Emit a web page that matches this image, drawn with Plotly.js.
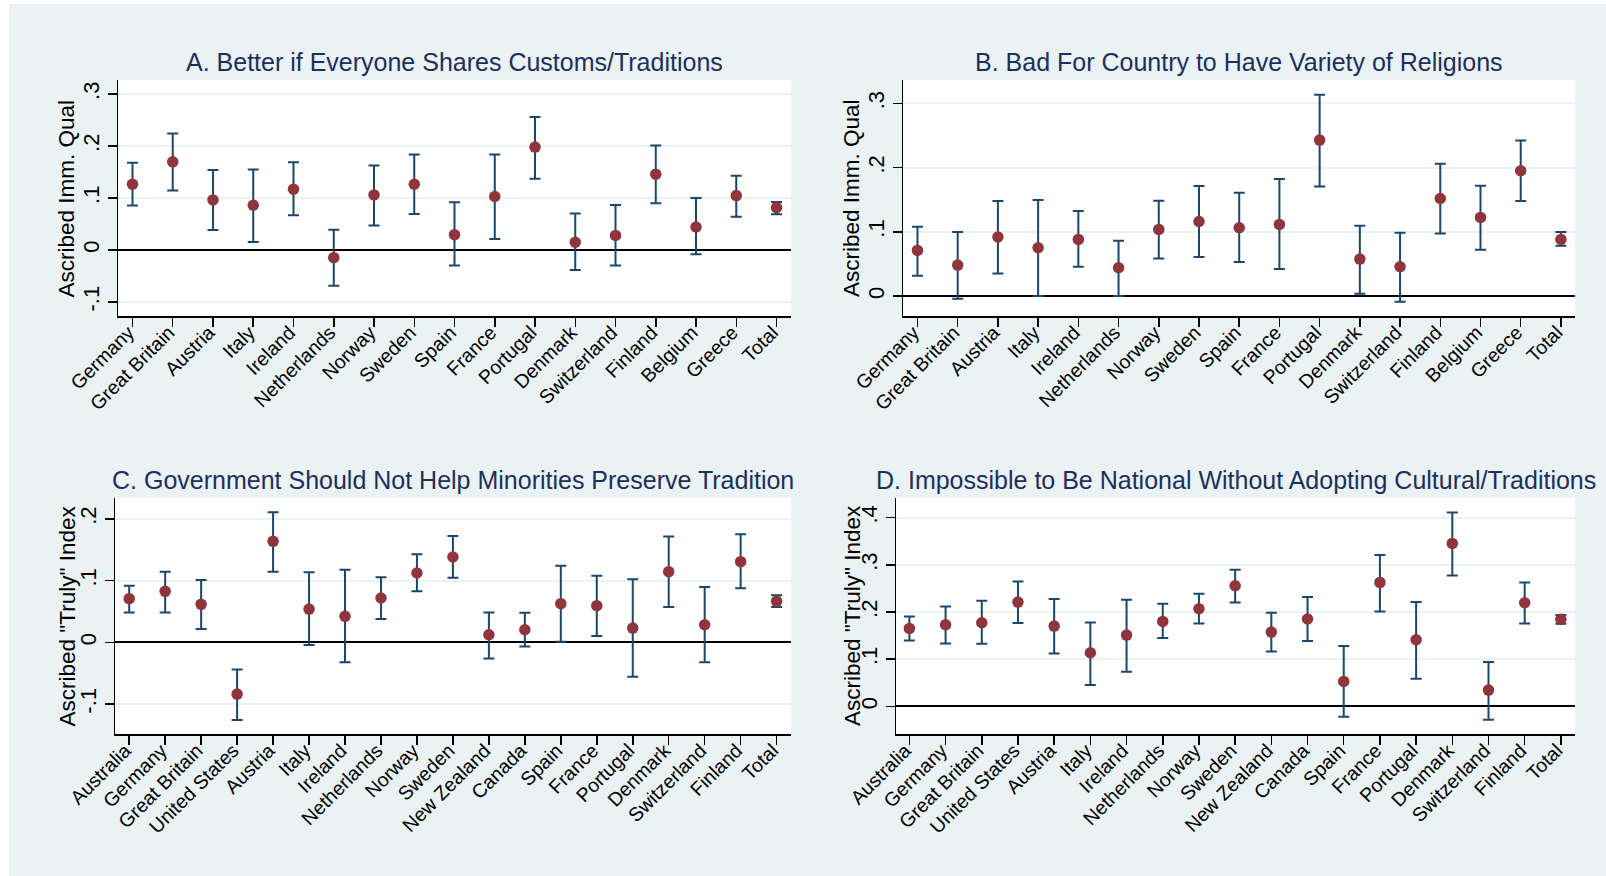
<!DOCTYPE html>
<html>
<head>
<meta charset="utf-8">
<script src="https://cdn.plot.ly/plotly-3.0.1.min.js"></script>
<style>
html,body{margin:0;padding:0;background:#ffffff;}
#chart{position:absolute;left:9px;top:4px;width:1597px;height:872px;}
</style>
</head>
<body>
<div id="chart"></div>
<script>
// Panel A & B categories
const countriesAB = ["Germany","Great Britain","Austria","Italy","Ireland","Netherlands","Norway","Sweden","Spain","France","Portugal","Denmark","Switzerland","Finland","Belgium","Greece","Total"];
// Panel C & D categories
const countriesCD = ["Australia","Germany","Great Britain","United States","Austria","Italy","Ireland","Netherlands","Norway","Sweden","New Zealand","Canada","Spain","France","Portugal","Denmark","Switzerland","Finland","Total"];

// A. Better if Everyone Shares Customs/Traditions
const aValue = [0.1265,0.1696,0.0963,0.086,0.117,-0.0148,0.106,0.1265,0.0295,0.1028,0.198,0.0148,0.028,0.1458,0.0443,0.1047,0.0816];
const aUpper = [0.1676,0.224,0.154,0.155,0.169,0.039,0.1625,0.1837,0.0918,0.1837,0.256,0.070,0.0867,0.201,0.100,0.143,0.0925];
const aLower = [0.0854,0.1143,0.0385,0.0154,0.0668,-0.069,0.047,0.069,-0.030,0.021,0.137,-0.0385,-0.030,0.090,-0.0083,0.064,0.0687];

// B. Bad For Country to Have Variety of Religions
const bValue = [0.0711,0.0483,0.0919,0.0752,0.0882,0.0441,0.1038,0.1162,0.1064,0.1116,0.2429,0.0576,0.0457,0.152,0.1225,0.1951,0.0882];
const bUpper = [0.108,0.0996,0.148,0.1495,0.1323,0.0861,0.1484,0.1712,0.1609,0.1821,0.3134,0.1095,0.0986,0.206,0.1718,0.2423,0.0996];
const bLower = [0.0317,-0.0042,0.0353,0.0,0.0457,0.0,0.0586,0.0607,0.0529,0.042,0.1707,0.0036,-0.0088,0.0976,0.0721,0.1479,0.0784];

// C. Government Should Not Help Minorities Preserve Tradition
const cValue = [0.0708,0.0827,0.0616,-0.0838,0.1638,0.054,0.0422,0.0719,0.1124,0.1384,0.0124,0.0205,0.0627,0.0595,0.0232,0.1146,0.0286,0.1308,0.0665];
const cUpper = [0.0919,0.1146,0.1011,-0.0438,0.2108,0.1135,0.1178,0.1054,0.1427,0.1724,0.0486,0.0481,0.1243,0.1081,0.1022,0.1714,0.0897,0.1751,0.0762];
const cLower = [0.0486,0.0486,0.0216,-0.126,0.1146,-0.0043,-0.0324,0.0378,0.0827,0.1049,-0.026,-0.0065,0.0011,0.0103,-0.0557,0.0573,-0.0324,0.0876,0.0573];

// D. Impossible to Be National Without Adopting Cultural/Traditions
const dValue = [0.1654,0.1731,0.1774,0.2212,0.1703,0.1138,0.1512,0.1802,0.2071,0.2558,0.1576,0.1852,0.053,0.2629,0.1413,0.3456,0.0346,0.2198,0.1845];
const dUpper = [0.1908,0.212,0.224,0.265,0.2276,0.1781,0.2261,0.2177,0.2389,0.2898,0.1986,0.2318,0.1279,0.3208,0.2212,0.4113,0.094,0.2629,0.1936];
const dLower = [0.1399,0.1336,0.1329,0.1767,0.1124,0.0452,0.0735,0.1449,0.176,0.2205,0.1166,0.1385,-0.0219,0.2014,0.0587,0.2777,-0.0283,0.176,0.1753];

const titles = ["A. Better if Everyone Shares Customs/Traditions","B. Bad For Country to Have Variety of Religions","C. Government Should Not Help Minorities Preserve Tradition","D. Impossible to Be National Without Adopting Cultural/Traditions"];
const yTitles = ["Ascribed Imm. Qual","Ascribed Imm. Qual","Ascribed \"Truly\" Index","Ascribed \"Truly\" Index"];
const yTickVals = [[-0.1,0,0.1,0.2,0.3],[0,0.1,0.2,0.3],[-0.1,0,0.1,0.2],[0,0.1,0.2,0.3,0.4]];
const yTickText = [["-.1","0",".1",".2",".3"],["0",".1",".2",".3"],["-.1","0",".1",".2"],["0",".1",".2",".3",".4"]];

const NAVY = "#1a476f", MAROON = "#90353b", BG = "#eaf2f3";
const FONT = "Liberation Sans, Arial, Helvetica, sans-serif";

const W = 1597, H = 872, OX = 9, OY = 4;
const px = v => (v - OX) / W;
const py = v => 1 - (v - OY) / H;

const panels = [
  {cats: countriesAB, v: aValue, u: aUpper, l: aLower, x0: 118, x1: 791, y0: 80, y1: 316, yr: [-0.127, 0.327], xr: [-0.36, 16.36], ytx: 66.5, ttl: 62},
  {cats: countriesAB, v: bValue, u: bUpper, l: bLower, x0: 903, x1: 1575, y0: 80, y1: 316, yr: [-0.031, 0.3364], xr: [-0.36, 16.35], ytx: 852, ttl: 62},
  {cats: countriesCD, v: cValue, u: cUpper, l: cLower, x0: 115, x1: 791, y0: 498, y1: 734, yr: [-0.1485, 0.234], xr: [-0.395, 18.4], ytx: 66.5, ttl: 480},
  {cats: countriesCD, v: dValue, u: dUpper, l: dLower, x0: 896, x1: 1575, y0: 498, y1: 734, yr: [-0.0585, 0.4418], xr: [-0.37, 18.39], ytx: 852, ttl: 480}
];

const data = [];
const layout = {
  width: W, height: H,
  margin: {l: 0, r: 0, t: 0, b: 0},
  paper_bgcolor: BG, plot_bgcolor: "#ffffff",
  showlegend: false,
  font: {family: FONT, color: "#000"},
  annotations: []
};

panels.forEach((p, i) => {
  const n = i + 1;
  const xa = n === 1 ? "x" : "x" + n, ya = n === 1 ? "y" : "y" + n;
  data.push({
    type: "scatter", mode: "markers",
    x: p.cats, y: p.v, xaxis: xa, yaxis: ya,
    marker: {color: MAROON, size: 11.5},
    error_y: {type: "data", symmetric: false,
      array: p.u.map((u, k) => u - p.v[k]),
      arrayminus: p.v.map((v, k) => v - p.l[k]),
      color: NAVY, thickness: 2, width: 5.5},
    cliponaxis: false, hoverinfo: "x+y"
  });
  layout["xaxis" + (n === 1 ? "" : n)] = {
    domain: [px(p.x0), px(p.x1)], anchor: ya, type: "category",
    categoryorder: "array", categoryarray: p.cats,
    range: p.xr, showgrid: false, zeroline: false,
    showline: true, linecolor: "#000", linewidth: 1.5,
    ticks: "outside", ticklen: 9, tickwidth: 1.5, tickcolor: "#000",
    tickangle: -45, ticklabelstandoff: -13, ticklabelshift: -4,
    tickfont: {family: FONT, size: 19.5, color: "#000"}
  };
  layout["yaxis" + (n === 1 ? "" : n)] = {
    domain: [py(p.y1), py(p.y0)], anchor: xa,
    range: p.yr, tickvals: yTickVals[i], ticktext: yTickText[i],
    showgrid: true, gridcolor: BG, gridwidth: 2,
    zeroline: true, zerolinecolor: "#000", zerolinewidth: 2,
    showline: true, linecolor: "#000", linewidth: 1.5,
    ticks: "outside", ticklen: 9, tickwidth: 1.5, tickcolor: "#000",
    tickangle: -90, tickfont: {family: FONT, size: 22, color: "#000"}
  };
  layout.annotations.push({
    xref: "paper", yref: "paper", x: (px(p.x0) + px(p.x1)) / 2, y: py(p.ttl),
    xanchor: "center", yanchor: "middle", showarrow: false,
    text: titles[i], font: {family: FONT, size: 25, color: "#1c2f5e"}
  });
  layout.annotations.push({
    xref: "paper", yref: "paper", x: px(p.ytx), y: py((p.y0 + p.y1) / 2),
    xanchor: "center", yanchor: "middle", showarrow: false, textangle: -90,
    text: yTitles[i], font: {family: FONT, size: 22.5, color: "#000"}
  });
});

Plotly.newPlot("chart", data, layout, {displayModeBar: false, staticPlot: true});
</script>
</body>
</html>
